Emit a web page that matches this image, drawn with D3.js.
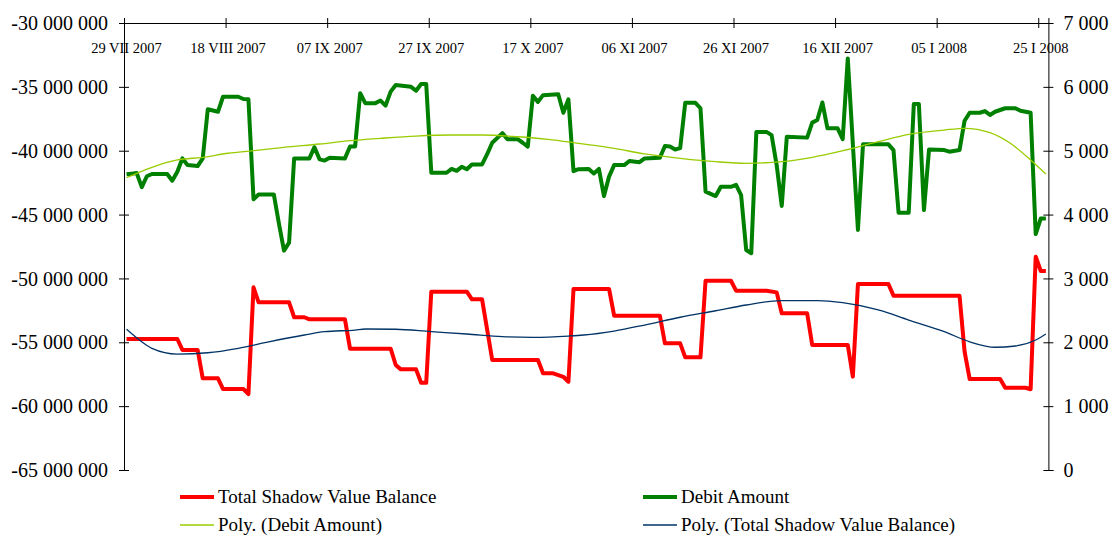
<!DOCTYPE html>
<html>
<head>
<meta charset="utf-8">
<script src="https://cdn.jsdelivr.net/npm/d3@7"></script>
<style>
  body { margin: 0; background: #fff; }
  svg { display: block; }
  text { font-family: "Liberation Serif", "Times New Roman", serif; fill: #000; }
</style>
</head>
<body>
<svg id="chart" width="1111" height="535"></svg>
<script>
// ---- data -------------------------------------------------------------
const startDate = "2007-07-29";
const endDate = "2008-01-27";

const tickDates = ["2007-07-29", "2007-08-18", "2007-09-07", "2007-09-27", "2007-10-17",
                   "2007-11-06", "2007-11-26", "2007-12-16", "2008-01-05", "2008-01-25"];
const tickLabels = ["29 VII 2007", "18 VIII 2007", "07 IX 2007", "27 IX 2007", "17 X 2007",
                    "06 XI 2007", "26 XI 2007", "16 XII 2007", "05 I 2008", "25 I 2008"];

const balanceTicks = [-30e6, -35e6, -40e6, -45e6, -50e6, -55e6, -60e6, -65e6];
const debitTicks = [0, 1000, 2000, 3000, 4000, 5000, 6000, 7000];

// [day offset from startDate, value]
const totalShadowValueBalance = [
  [0, -54.74e6], [10, -54.74e6], [11, -55.6e6], [14, -55.6e6], [15, -57.82e6], [18, -57.82e6],
  [19, -58.66e6], [23, -58.66e6], [24, -59.05e6], [25, -50.7e6], [26, -51.87e6], [32, -51.87e6],
  [33, -53.04e6], [35, -53.04e6], [36, -53.2e6], [43, -53.2e6], [44, -55.5e6], [52, -55.5e6],
  [53, -56.78e6], [54, -57.12e6], [57, -57.12e6], [58, -58.17e6], [59, -58.17e6], [60, -51.04e6],
  [67, -51.04e6], [68, -51.64e6], [70, -51.64e6], [72, -56.39e6], [81, -56.39e6], [82, -57.43e6],
  [84, -57.43e6], [86, -57.7e6], [87, -58.09e6], [88, -50.82e6], [95, -50.82e6], [96, -52.92e6],
  [105, -52.92e6], [106, -55.08e6], [109, -55.08e6], [110, -56.18e6], [113, -56.18e6], [114, -50.18e6],
  [119, -50.18e6], [120, -50.96e6], [126, -50.96e6], [128, -51.09e6], [129, -52.73e6], [134, -52.73e6],
  [135, -55.21e6], [142, -55.21e6], [143, -57.69e6], [144, -50.44e6], [150, -50.44e6], [151, -51.35e6],
  [164, -51.35e6], [165, -55.74e6], [166, -57.88e6], [172, -57.88e6], [173, -58.56e6], [177, -58.56e6],
  [178, -58.68e6], [179, -48.3e6], [180, -49.42e6], [181, -49.42e6]
];

const debitAmount = [
  [0, 4630], [1, 4640], [2, 4650], [3, 4430], [4, 4600], [5, 4635], [8, 4635], [9, 4530],
  [10, 4670], [11, 4880], [12, 4775], [14, 4760], [15, 4880], [16, 5650], [17, 5630], [18, 5610],
  [19, 5845], [22, 5845], [23, 5810], [24, 5805], [25, 4240], [26, 4315], [29, 4315], [30, 3860],
  [31, 3435], [32, 3560], [33, 4880], [36, 4880], [37, 5055], [38, 4865], [39, 4845], [40, 4890],
  [43, 4880], [44, 5065], [45, 5065], [46, 5900], [47, 5745], [49, 5745], [50, 5785], [51, 5705],
  [52, 5925], [53, 6030], [56, 6000], [57, 5940], [58, 6045], [59, 6045], [60, 4655], [63, 4655],
  [64, 4715], [65, 4685], [66, 4750], [67, 4710], [68, 4785], [70, 4785], [71, 4945], [72, 5125],
  [74, 5275], [75, 5180], [77, 5180], [78, 5125], [79, 5065], [80, 5860], [81, 5765], [82, 5870],
  [85, 5885], [86, 5595], [87, 5805], [88, 4680], [89, 4710], [91, 4715], [92, 4645], [93, 4715],
  [94, 4290], [95, 4595], [96, 4775], [98, 4775], [99, 4840], [101, 4820], [102, 4880], [105, 4890],
  [106, 5075], [107, 5065], [108, 5020], [109, 5040], [110, 5750], [112, 5750], [113, 5665], [114, 4360],
  [116, 4290], [117, 4435], [119, 4435], [120, 4465], [121, 4305], [122, 3445], [123, 3395], [124, 5295],
  [126, 5295], [127, 5245], [128, 4775], [129, 4135], [130, 5220], [134, 5205], [135, 5440], [136, 5480],
  [137, 5755], [138, 5350], [140, 5350], [141, 5180], [142, 6445], [144, 3760], [145, 5100], [150, 5100],
  [151, 5010], [152, 4030], [154, 4030], [155, 5730], [156, 5730], [157, 4070], [158, 5020], [161, 5010],
  [162, 4985], [164, 5010], [165, 5470], [166, 5595], [168, 5595], [169, 5620], [170, 5560], [171, 5610],
  [173, 5665], [175, 5665], [176, 5625], [178, 5595], [179, 3695], [180, 3940], [181, 3940]
];

// polynomial trend lines
const debitTrend = [
  [0, 4577], [5, 4740], [10, 4855], [15, 4897], [20, 4960], [25, 5000], [31, 5053], [38, 5105],
  [44, 5157], [50, 5194], [57, 5230], [64, 5246], [70, 5246], [77, 5219], [83, 5179], [89, 5116],
  [96, 5038], [102, 4949], [109, 4881], [116, 4828], [122, 4803], [129, 4828], [135, 4897], [141, 5000],
  [148, 5141], [154, 5257], [161, 5324], [165, 5351], [170, 5282], [174, 5116], [178, 4855], [181, 4635]
];

const balanceTrend = [
  [0, -53.98e6], [3, -54.96e6], [5, -55.47e6], [10, -55.92e6], [16, -55.82e6], [22, -55.47e6],
  [28, -54.96e6], [35, -54.43e6], [39, -54.17e6], [45, -54.04e6], [47, -53.96e6], [53, -53.98e6],
  [60, -54.17e6], [67, -54.35e6], [74, -54.56e6], [80, -54.61e6], [87, -54.51e6], [90, -54.43e6],
  [96, -54.12e6], [102, -53.65e6], [109, -53.04e6], [116, -52.53e6], [122, -52.08e6], [129, -51.74e6],
  [136, -51.74e6], [141, -51.9e6], [148, -52.47e6], [154, -53.26e6], [161, -54.17e6], [166, -54.96e6],
  [171, -55.39e6], [175, -55.29e6], [179, -54.82e6], [181, -54.35e6]
];

// ---- layout -----------------------------------------------------------
const svg = d3.select("#chart");
const plot = { left: 124, right: 1048.4, top: 23, bottom: 470 };
const parse = d3.utcParse("%Y-%m-%d");
const t0 = parse(startDate);

const x = d3.scaleUtc().domain([t0, parse(endDate)]).range([plot.left, plot.right]);
const yL = d3.scaleLinear().domain([-65e6, -30e6]).range([plot.bottom, plot.top]);
const yR = d3.scaleLinear().domain([0, 7000]).range([plot.bottom, plot.top]);

// each daily value sits in the middle of its day
const dayX = d => x(d3.utcHour.offset(d3.utcDay.offset(t0, d), 12));

const fmt = d3.formatLocale({ decimal: ",", thousands: " ", grouping: [3], currency: ["", ""], minus: "-" }).format(",d");

// ---- axes -------------------------------------------------------------
function crossTicks(g, horizontal) {
  g.selectAll(".tick line").attr(horizontal ? "y1" : "x1", -5).attr(horizontal ? "y2" : "x2", 5);
  g.select(".domain").attr("stroke", "#000").attr("stroke-width", 1);
  g.selectAll(".tick line").attr("stroke", "#000");
  g.selectAll("text").attr("fill", "#000");
}

const gLeft = svg.append("g").attr("transform", `translate(${plot.left},0)`)
  .call(d3.axisLeft(yL).tickValues(balanceTicks).tickSizeOuter(0).tickSize(5).tickFormat(fmt));
crossTicks(gLeft, false);
gLeft.selectAll(".tick text").attr("x", -16).attr("dy", "0.33em").style("font-size", "20px");

const gRight = svg.append("g").attr("transform", `translate(${plot.right},0)`)
  .call(d3.axisRight(yR).tickValues(debitTicks).tickSizeOuter(0).tickSize(5).tickFormat(fmt));
crossTicks(gRight, false);
gRight.selectAll(".tick text").attr("x", 15).attr("dy", "0.33em").style("font-size", "20px");

const gTop = svg.append("g").attr("transform", `translate(0,${plot.top})`)
  .call(d3.axisTop(x).tickValues(tickDates.map(parse)).tickSizeOuter(0).tickSize(5)
    .tickFormat((d, i) => tickLabels[i]));
crossTicks(gTop, true);
gTop.selectAll(".tick text").attr("y", 25).attr("dy", "0.35em").attr("dx", 2).style("font-size", "14.5px");

// ---- series -----------------------------------------------------------
const lineL = d3.line().x(d => dayX(d[0])).y(d => yL(d[1]));
const lineR = d3.line().x(d => dayX(d[0])).y(d => yR(d[1]));

svg.append("path").datum(totalShadowValueBalance).attr("d", lineL)
  .attr("fill", "none").attr("stroke", "#ff0000").attr("stroke-width", 4)
  .attr("stroke-linejoin", "round");

svg.append("path").datum(debitAmount).attr("d", lineR)
  .attr("fill", "none").attr("stroke", "#008000").attr("stroke-width", 4)
  .attr("stroke-linejoin", "round");

svg.append("path").datum(debitTrend).attr("d", lineR.curve(d3.curveMonotoneX))
  .attr("fill", "none").attr("stroke", "#99cc00").attr("stroke-width", 1.3);

svg.append("path").datum(balanceTrend).attr("d", lineL.curve(d3.curveMonotoneX))
  .attr("fill", "none").attr("stroke", "#003366").attr("stroke-width", 1.3);

// ---- legend -----------------------------------------------------------
const legendItems = [
  { label: "Total Shadow Value Balance", color: "#ff0000", width: 4, x: 180, y: 497 },
  { label: "Debit Amount", color: "#008000", width: 4, x: 643, y: 497 },
  { label: "Poly. (Debit Amount)", color: "#99cc00", width: 1.3, x: 180, y: 525 },
  { label: "Poly. (Total Shadow Value Balance)", color: "#003366", width: 1.3, x: 643, y: 525 }
];
const legend = svg.append("g");
legendItems.forEach(item => {
  legend.append("line").attr("x1", item.x).attr("x2", item.x + 34)
    .attr("y1", item.y).attr("y2", item.y)
    .attr("stroke", item.color).attr("stroke-width", item.width);
  legend.append("text").attr("x", item.x + 38).attr("y", item.y).attr("dy", "0.33em")
    .style("font-size", "19px").text(item.label);
});
</script>
</body>
</html>
